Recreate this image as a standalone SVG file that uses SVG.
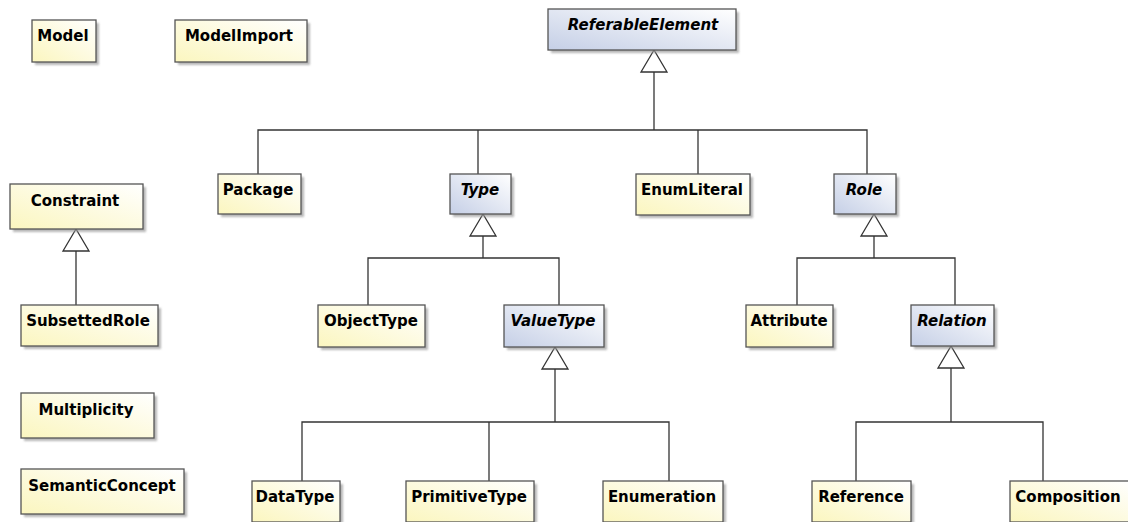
<svg xmlns="http://www.w3.org/2000/svg" width="1128" height="522" viewBox="0 0 1128 522">
<defs>
<linearGradient id="gy" x1="0" y1="1" x2="1" y2="0"><stop offset="0" stop-color="#fbf6bf"/><stop offset="1" stop-color="#ffffff"/></linearGradient>
<linearGradient id="gb" x1="0" y1="1" x2="1" y2="0"><stop offset="0" stop-color="#c5cfe6"/><stop offset="1" stop-color="#ffffff"/></linearGradient>
<filter id="sh" x="-10%" y="-10%" width="130%" height="140%"><feGaussianBlur stdDeviation="1"/></filter>
</defs>
<style>
.shadow{fill:#9a9a9a;opacity:0.7;filter:url(#sh)}
.c{fill:url(#gy);stroke:#555;stroke-width:1.3}
.a{fill:url(#gb);stroke:#555;stroke-width:1.3}
text{font-family:"DejaVu Sans","Liberation Sans",sans-serif;font-weight:bold;font-size:15px;fill:#000;text-anchor:middle}
.ab text{font-style:italic}
.ln{fill:none;stroke:#333;stroke-width:1.3}
.tri{fill:#fff;stroke:#333;stroke-width:1.3}
</style>
<rect width="1128" height="522" fill="#fff"/>
<g id="connectors">
<polyline class="ln" points="654,72 654,130"/>
<polyline class="ln" points="258,174 258,130 867,130 867,174"/>
<polyline class="ln" points="478,130 478,174"/>
<polyline class="ln" points="698,130 698,174"/>
<polygon class="tri" points="654,50 641,72 667,72"/>
<polyline class="ln" points="483,236 483,258"/>
<polyline class="ln" points="368,305 368,258 559,258 559,305"/>
<polygon class="tri" points="483,214 470,236 496,236"/>
<polyline class="ln" points="874,236 874,258"/>
<polyline class="ln" points="797,305 797,258 955,258 955,305"/>
<polygon class="tri" points="874,214 861,236 887,236"/>
<polyline class="ln" points="76,251 76,305"/>
<polygon class="tri" points="76,229 63,251 89,251"/>
<polyline class="ln" points="555,369 555,422"/>
<polyline class="ln" points="302,481 302,422 669,422 669,481"/>
<polyline class="ln" points="489,422 489,481"/>
<polygon class="tri" points="555,347 542,369 568,369"/>
<polyline class="ln" points="951,368 951,422"/>
<polyline class="ln" points="856,481 856,422 1043,422 1043,481"/>
<polygon class="tri" points="951,346 938,368 964,368"/>
</g>
<g id="Model"><rect class="shadow" x="35" y="23" width="64" height="42"/><rect class="c" x="32" y="20" width="64" height="42"/><text x="63" y="41">Model</text></g>
<g id="ModelImport"><rect class="shadow" x="178" y="23" width="132" height="42"/><rect class="c" x="175" y="20" width="132" height="42"/><text x="239" y="41">ModelImport</text></g>
<g id="ReferableElement" class="ab"><rect class="shadow" x="551" y="12" width="188" height="41"/><rect class="a" x="548" y="9" width="188" height="41"/><text x="643" y="30">ReferableElement</text></g>
<g id="Package"><rect class="shadow" x="221" y="177" width="83" height="40"/><rect class="c" x="218" y="174" width="83" height="40"/><text x="258" y="195">Package</text></g>
<g id="Type" class="ab"><rect class="shadow" x="453" y="177" width="61" height="40"/><rect class="a" x="450" y="174" width="61" height="40"/><text x="480" y="195">Type</text></g>
<g id="EnumLiteral"><rect class="shadow" x="639" y="177" width="114" height="41"/><rect class="c" x="636" y="174" width="114" height="41"/><text x="692" y="195">EnumLiteral</text></g>
<g id="Role" class="ab"><rect class="shadow" x="837" y="177" width="62" height="40"/><rect class="a" x="834" y="174" width="62" height="40"/><text x="864" y="195">Role</text></g>
<g id="Constraint"><rect class="shadow" x="13" y="187" width="133" height="45"/><rect class="c" x="10" y="184" width="133" height="45"/><text x="75" y="206">Constraint</text></g>
<g id="SubsettedRole"><rect class="shadow" x="24" y="308" width="137" height="41"/><rect class="c" x="21" y="305" width="137" height="41"/><text x="88" y="326">SubsettedRole</text></g>
<g id="ObjectType"><rect class="shadow" x="321" y="308" width="107" height="42"/><rect class="c" x="318" y="305" width="107" height="42"/><text x="371" y="326">ObjectType</text></g>
<g id="ValueType" class="ab"><rect class="shadow" x="507" y="308" width="100" height="42"/><rect class="a" x="504" y="305" width="100" height="42"/><text x="553" y="326">ValueType</text></g>
<g id="Attribute"><rect class="shadow" x="749" y="308" width="87" height="42"/><rect class="c" x="746" y="305" width="87" height="42"/><text x="789" y="326">Attribute</text></g>
<g id="Relation" class="ab"><rect class="shadow" x="914" y="308" width="83" height="41"/><rect class="a" x="911" y="305" width="83" height="41"/><text x="952" y="326">Relation</text></g>
<g id="Multiplicity"><rect class="shadow" x="24" y="396" width="133" height="45"/><rect class="c" x="21" y="393" width="133" height="45"/><text x="86" y="415">Multiplicity</text></g>
<g id="SemanticConcept"><rect class="shadow" x="24" y="472" width="163" height="45"/><rect class="c" x="21" y="469" width="163" height="45"/><text x="102" y="491">SemanticConcept</text></g>
<g id="DataType"><rect class="shadow" x="255" y="484" width="88" height="41"/><rect class="c" x="252" y="481" width="88" height="41"/><text x="295" y="502">DataType</text></g>
<g id="PrimitiveType"><rect class="shadow" x="409" y="484" width="128" height="41"/><rect class="c" x="406" y="481" width="128" height="41"/><text x="469" y="502">PrimitiveType</text></g>
<g id="Enumeration"><rect class="shadow" x="606" y="484" width="120" height="41"/><rect class="c" x="603" y="481" width="120" height="41"/><text x="662" y="502">Enumeration</text></g>
<g id="Reference"><rect class="shadow" x="815" y="484" width="99" height="41"/><rect class="c" x="812" y="481" width="99" height="41"/><text x="861" y="502">Reference</text></g>
<g id="Composition"><rect class="shadow" x="1013" y="484" width="120" height="41"/><rect class="c" x="1010" y="481" width="120" height="41"/><text x="1068" y="502">Composition</text></g>
</svg>
